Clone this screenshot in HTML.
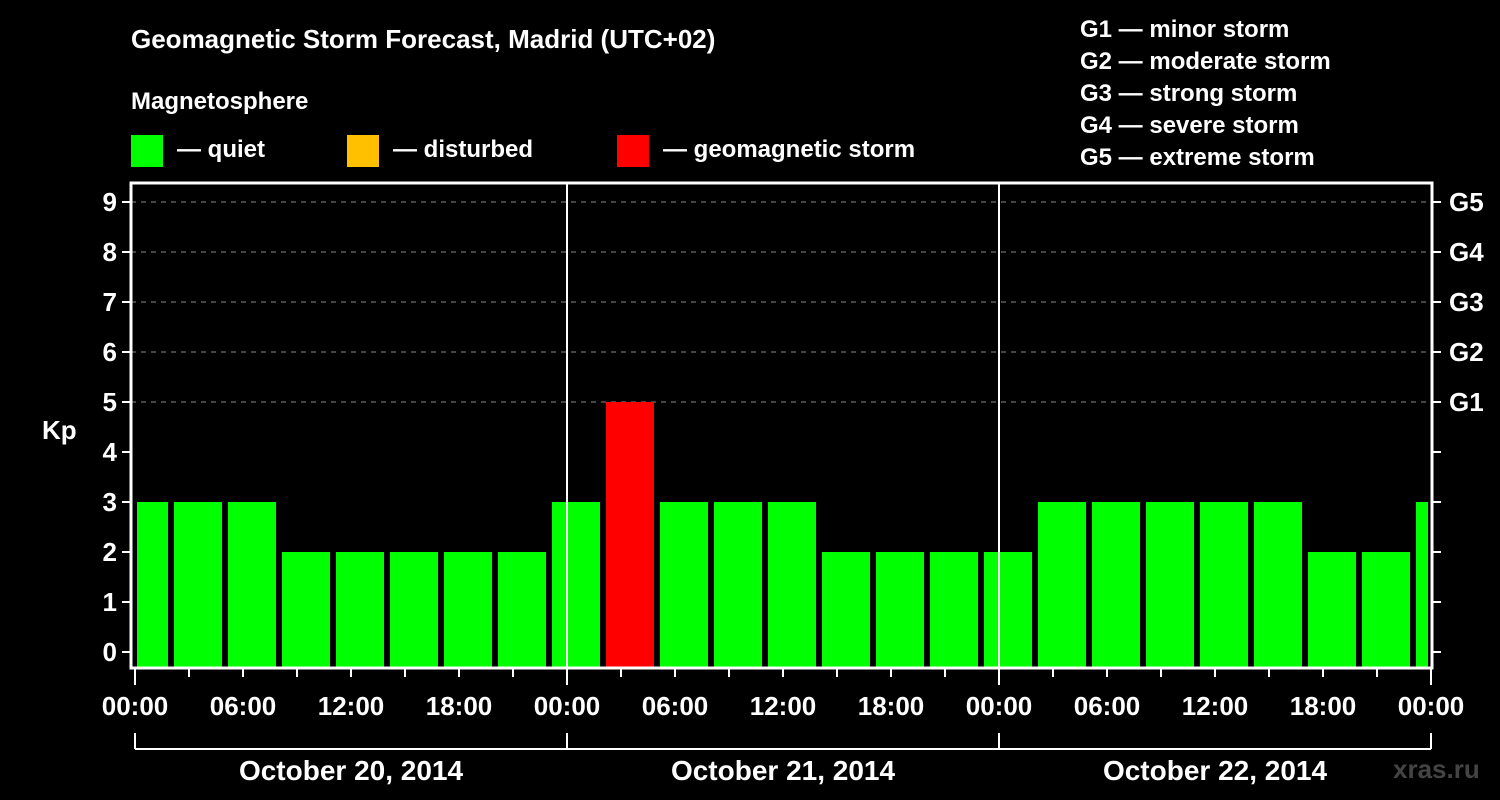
<!DOCTYPE html>
<html><head><meta charset="utf-8"><style>
body{margin:0;background:#000;}
svg{display:block;font-family:"Liberation Sans",Arial,sans-serif;font-weight:bold;}
</style></head><body>
<svg id="chart" width="1500" height="800" viewBox="0 0 1500 800">
<rect width="1500" height="800" fill="#000"/>
<text x="131" y="48" fill="#fff" font-size="26">Geomagnetic Storm Forecast, Madrid (UTC+02)</text>
<text x="131" y="109" fill="#fff" font-size="24">Magnetosphere</text>
<g>
<rect x="131" y="135" width="32" height="32" fill="#00ff00"/>
<text x="177" y="157" fill="#fff" font-size="24">— quiet</text>
<rect x="347" y="135" width="32" height="32" fill="#ffc000"/>
<text x="393" y="157" fill="#fff" font-size="24">— disturbed</text>
<rect x="617" y="135" width="32" height="32" fill="#ff0000"/>
<text x="663" y="157" fill="#fff" font-size="24">— geomagnetic storm</text>
</g>
<g fill="#fff" font-size="24">
<text x="1080" y="37">G1 — minor storm</text>
<text x="1080" y="69">G2 — moderate storm</text>
<text x="1080" y="101">G3 — strong storm</text>
<text x="1080" y="133">G4 — severe storm</text>
<text x="1080" y="165">G5 — extreme storm</text>
</g>
<text x="42" y="439" fill="#fff" font-size="26">Kp</text>
<text x="1393" y="778" fill="#444" font-size="26">xras.ru</text>
<g id="grid"></g><g id="bars"></g><g id="axes"></g>
</svg>
<script>
const kpValues=[3,3,3,2,2,2,2,2,3,5,3,3,3,2,2,2,2,3,3,3,3,3,2,2,3];
const binStartHours=-1; // first 3h bin start in local hours
const yTicks=[0,1,2,3,4,5,6,7,8,9];
const gLabels=["G1","G2","G3","G4","G5"];
const xTickLabels=["00:00","06:00","12:00","18:00","00:00","06:00","12:00","18:00","00:00","06:00","12:00","18:00","00:00"];
const dayLabels=["October 20, 2014","October 21, 2014","October 22, 2014"];
const NS="http://www.w3.org/2000/svg";
const L=131,R=1432,T=183,B=668,X0=135,PXH=18;
const x=h=>X0+h*PXH, y=v=>652-v*50;
function mk(tag,at,parent){const e=document.createElementNS(NS,tag);for(const k in at)e.setAttribute(k,at[k]);document.getElementById(parent).appendChild(e);return e;}
yTicks.forEach(v=>{
 if(v>=5){const g=mk('line',{x1:L,x2:R,y1:y(v),y2:y(v),stroke:'#888','stroke-dasharray':'5,5','stroke-width':1},'grid');
 
 }
 const t=mk('line',{x1:L-9,x2:L,y1:y(v),y2:y(v),stroke:'#fff','stroke-width':2},'axes');
 
 
 const t2=mk('line',{x1:R,x2:R+9,y1:y(v),y2:y(v),stroke:'#fff','stroke-width':2},'axes');
 
 
 const l=mk('text',{x:L-14,y:y(v)+9,fill:'#fff','font-size':26,'text-anchor':'end'},'axes');l.textContent=v;
 
 
});
gLabels.forEach((g,i)=>{const l=mk('text',{x:R+17,y:y(5+i)+9,fill:'#fff','font-size':26},'axes');l.textContent=g;
 
 });
kpValues.forEach((v,i)=>{
 const h0=binStartHours+i*3;
 let x1=x(h0)+3,x2=x(h0+3)-3;
 x1=Math.max(x1,L+6);x2=Math.min(x2,R-4);
 const c=v>=5?'#ff0000':(v>=4?'#ffc000':'#00ff00');
 const b=mk('rect',{x:x1,y:y(v),width:x2-x1,height:B-y(v),fill:c},'bars');
 
 
});
[[0,0],[1,1]].forEach(()=>{});
for(let d=1;d<3;d++){const l=mk('line',{x1:x(d*24),x2:x(d*24),y1:T,y2:B,stroke:'#fff','stroke-width':2},'axes');
 
 }
const f=mk('rect',{x:L,y:T,width:R-L,height:B-T,fill:'none',stroke:'#fff','stroke-width':3},'axes');


for(let h=0;h<=72;h+=3){const major=h%6===0&&false;const t=mk('line',{x1:x(h),x2:x(h),y1:B,y2:B+(h%24===0?17:9),stroke:'#fff','stroke-width':2},'axes');
 
 }
xTickLabels.forEach((s,i)=>{const l=mk('text',{x:x(i*6),y:715,fill:'#fff','font-size':26,'text-anchor':'middle'},'axes');l.textContent=s;
 
 });
const br=mk('line',{x1:x(0),x2:x(72),y1:749,y2:749,stroke:'#fff','stroke-width':2},'axes');


for(let d=0;d<=3;d++){const t=mk('line',{x1:x(d*24),x2:x(d*24),y1:733,y2:749,stroke:'#fff','stroke-width':2},'axes');
 
 }
dayLabels.forEach((s,i)=>{const l=mk('text',{x:x(i*24+12),y:780,fill:'#fff','font-size':28,'text-anchor':'middle'},'axes');l.textContent=s;
 
 });
</script>
</body></html>
